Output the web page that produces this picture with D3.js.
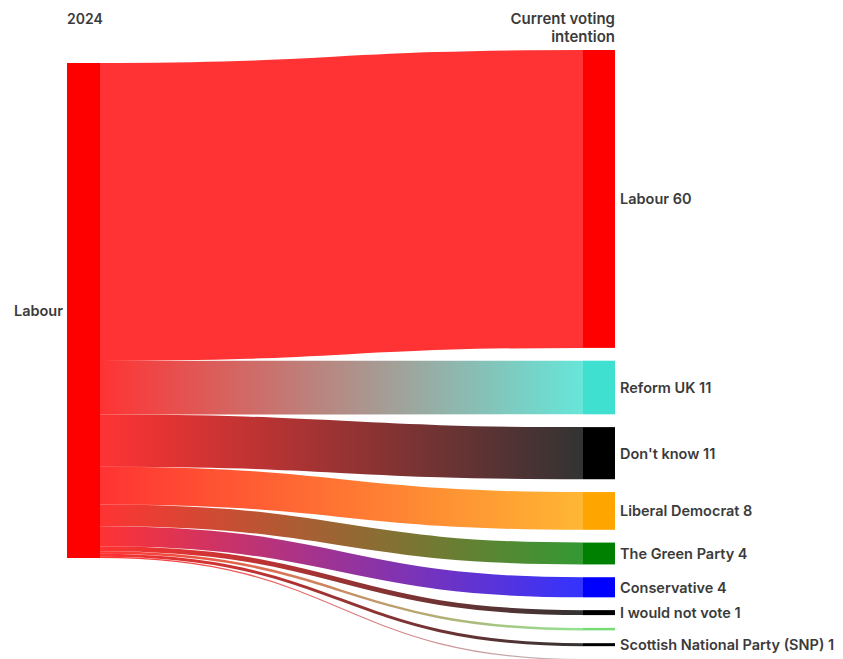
<!DOCTYPE html>
<html>
<head>
<meta charset="utf-8">
<script src="https://cdn.jsdelivr.net/npm/d3@7"></script>
<style>
  html, body { margin: 0; padding: 0; background: #fff; }
  svg { display: block; }
  text { font-family: Inter, "Noto Sans", sans-serif; font-weight: 600; fill: #3b3b3b; }
</style>
</head>
<body>
<svg id="chart" width="843" height="659"></svg>
<script>
// ---- data ----
const sourceName = "Labour";
const sourceHeader = "2024";
const targetHeader = ["Current voting", "intention"];
const targets = ["Labour", "Reform UK", "Don't know", "Liberal Democrat", "The Green Party",
                 "Conservative", "I would not vote", "Plaid Cymru", "Scottish National Party (SNP)", "Other"];
const values  = [60, 10.8, 10.5, 7.6, 4.4, 4.05, 1.0, 0.5, 0.6, 0.25];
const shares  = [60, 11, 11, 8, 4, 4, 1, null, 1, null];

// ---- styles ----
const sourceColor = "#ff0000";
const color = d3.scaleOrdinal().domain(targets).range([
  "#ff0000", "#40e0d0", "#000000", "#ffa500", "#008000",
  "#0000ff", "#000000", "#77dd77", "#000000", "#aaaaaa"
]);

const svg = d3.select("#chart");
const leftX0 = 67, leftX1 = 100, rightX0 = 583, rightX1 = 615;
const leftTop = 63, rightTop = 50, pad = 12.8, totalH = 495;

const h = d3.scaleLinear().domain([0, d3.sum(values)]).range([0, totalH]);

// layout
let ySrc = leftTop, yTgt = rightTop;
const links = targets.map((t, i) => {
  const w = h(values[i]);
  const l = { name: t, i, w, sy0: ySrc, sy1: ySrc + w, ty0: yTgt, ty1: yTgt + w };
  ySrc += w; yTgt += w + pad;
  return l;
});

const defs = svg.append("defs");
links.forEach(l => {
  const g = defs.append("linearGradient")
    .attr("id", "grad" + l.i)
    .attr("gradientUnits", "userSpaceOnUse")
    .attr("x1", leftX1).attr("x2", rightX0);
  g.append("stop").attr("offset", "0%").attr("stop-color", sourceColor);
  g.append("stop").attr("offset", "100%").attr("stop-color", color(l.name));
});

const linkGen = d3.linkHorizontal();
svg.append("g").attr("fill", "none").attr("stroke-opacity", 0.8)
  .selectAll("path").data(links).join("path")
  .attr("d", l => linkGen({ source: [leftX1, (l.sy0 + l.sy1) / 2], target: [rightX0, (l.ty0 + l.ty1) / 2] }))
  .attr("stroke", l => `url(#grad${l.i})`)
  .attr("stroke-width", l => Math.max(1, l.w));

// left node
svg.append("rect").attr("x", leftX0).attr("y", leftTop)
  .attr("width", leftX1 - leftX0).attr("height", h(d3.sum(values)))
  .attr("fill", sourceColor);

// right nodes
svg.append("g").selectAll("rect").data(links).join("rect")
  .attr("x", rightX0).attr("y", l => l.ty0)
  .attr("width", rightX1 - rightX0).attr("height", l => l.w)
  .attr("fill", l => color(l.name));

// labels
svg.append("text").attr("x", 63).attr("y", leftTop + h(d3.sum(values)) / 2)
  .attr("text-anchor", "end").attr("dominant-baseline", "central")
  .attr("font-size", 14.5).text(sourceName);

svg.append("g").selectAll("text").data(links.filter(l => shares[l.i] !== null)).join("text")
  .attr("x", rightX1 + 5).attr("y", l => (l.ty0 + l.ty1) / 2)
  .attr("dominant-baseline", "central").attr("font-size", 14.5)
  .text(l => `${l.name} ${shares[l.i]}`);

// headers
svg.append("text").attr("x", leftX0).attr("y", 24).attr("font-size", 14).text(sourceHeader);
svg.append("text").attr("x", rightX1).attr("text-anchor", "end").attr("font-size", 15)
  .selectAll("tspan").data(targetHeader).join("tspan")
  .attr("x", rightX1).attr("y", (d, i) => 24 + i * 18).text(d => d);
</script>
</body>
</html>
